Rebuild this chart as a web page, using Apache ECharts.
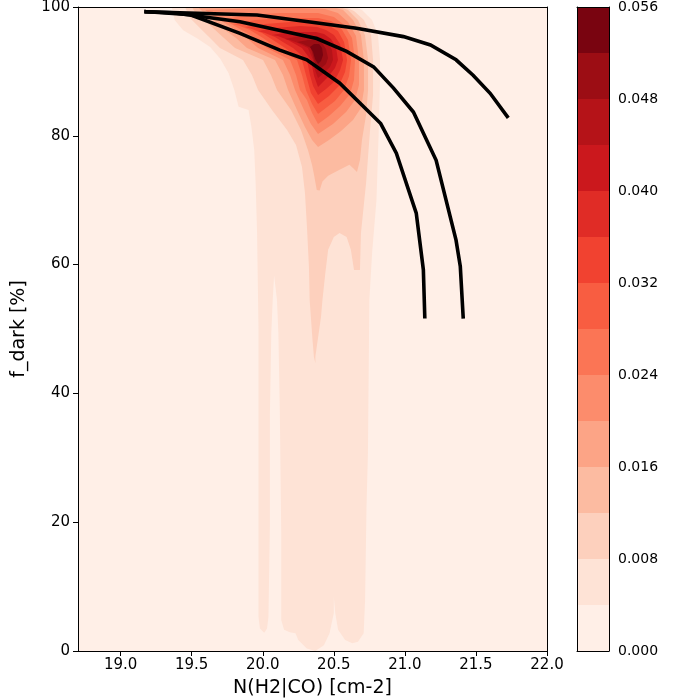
<!DOCTYPE html>
<html lang="en">
<head>
<meta charset="UTF-8">
<title>f_dark vs N(H2|CO)</title>
<style>
    html, body { margin: 0; padding: 0; background: #fff; }
    #chartmain { width: 700px; height: 700px; }
</style>
</head>
<body>
<div id="chartmain"></div>
<script src="https://cdn.jsdelivr.net/npm/echarts@6/dist/echarts.min.js"></script>
<script>
// density levels of the filled contours and the Reds colour of each band
var levels = [0, 0.004, 0.008, 0.012, 0.016, 0.020, 0.024, 0.028, 0.032, 0.036, 0.040, 0.044, 0.048, 0.052, 0.056];
var bandColors = ['#ffefe7', '#fee3d6', '#fdd0bd', '#fcbba1', '#fca486', '#fc8c6c', '#fb7555',
    '#f85d41', '#f14230', '#e02c26', '#cb181d', '#b51318', '#9c0d14', '#790410'];

var xTicks = [19.0, 19.5, 20.0, 20.5, 21.0, 21.5, 22.0];
var yTicks = [0, 20, 40, 60, 80, 100];
var cbTicks = [0, 0.008, 0.016, 0.024, 0.032, 0.040, 0.048, 0.056];

// outline of the region where density >= level k, points are [N(H2|CO), f_dark]
var band1 = [[19.36, 100], [19.38, 97.98], [19.44, 96.4], [19.54, 95.1], [19.63, 93.8], [19.70, 92.0], [19.76, 89.7],
    [19.80, 87.1], [19.83, 84.5], [19.90, 84.0], [19.92, 81.4], [19.94, 77.8], [19.95, 72.6], [19.96, 64.9], [19.97, 50],
    [19.97, 5.3], [19.98, 3.5], [20.01, 2.85], [20.03, 3.5], [20.04, 5.3], [20.05, 19.3], [20.05, 36.4], [20.06, 49.3],
    [20.07, 54.5], [20.08, 58.3], [20.10, 54.5], [20.11, 49.3], [20.12, 37.4], [20.13, 18.3], [20.13, 4.8], [20.15, 3.3],
    [20.19, 2.9], [20.23, 2.75], [20.25, 1.7], [20.31, 0.4], [20.37, 0], [20.43, 0.9], [20.47, 2.75], [20.50, 5.9],
    [20.50, 8.4], [20.51, 5.9], [20.53, 3.3], [20.58, 1.7], [20.63, 1.2], [20.67, 1.45], [20.71, 2.75], [20.72, 7.9],
    [20.73, 22.4], [20.74, 30.7], [20.75, 54.5], [20.77, 62], [20.80, 70.0], [20.815, 80], [20.825, 88.66],
    [20.825, 91.77], [20.811, 95.65], [20.769, 97.98], [20.698, 99.53], [20.649, 100]];
var band2 = [[19.453, 100], [20.579, 100], [20.642, 99.38], [20.712, 97.98], [20.762, 95.65], [20.776, 91.77],
    [20.776, 86.33], [20.755, 80.90], [20.727, 72.67], [20.691, 64.91], [20.684, 59.16], [20.642, 59.16], [20.62, 62.3],
    [20.59, 64.3], [20.54, 64.9], [20.50, 64.3], [20.46, 62.3], [20.44, 58.6], [20.42, 54.5], [20.41, 51.9], [20.39, 48.8],
    [20.37, 45.7], [20.37, 44.7], [20.36, 45.7], [20.35, 48.3], [20.34, 51.4], [20.33, 54.5], [20.325, 59.63],
    [20.311, 65.84], [20.297, 71.12], [20.276, 75.16], [20.234, 78.57], [20.171, 80.90], [20.065, 84.01], [19.967, 87.11],
    [19.924, 89.44], [19.861, 91.77], [19.699, 93.63], [19.629, 95.19], [19.558, 96.74], [19.488, 98.29]];
var band3 = [[19.502, 100], [20.544, 100], [20.600, 99.53], [20.670, 97.98], [20.719, 95.65], [20.741, 91.77],
    [20.741, 87.11], [20.727, 83.23], [20.698, 79.35], [20.684, 76.24], [20.663, 74.38], [20.635, 75.0], [20.61, 75.5],
    [20.53, 74.6], [20.46, 73.8], [20.42, 72.9], [20.40, 71.5], [20.38, 71.6], [20.361, 73.91], [20.347, 75.47],
    [20.318, 77.80], [20.269, 80.90], [20.199, 84.01], [20.100, 87.11], [20.058, 89.44], [20.002, 91.77], [19.805, 93.63],
    [19.727, 95.19], [19.650, 96.74], [19.572, 98.29], [19.523, 99.22]];
var band4 = [[19.544, 100], [20.494, 100], [20.565, 99.53], [20.635, 97.98], [20.691, 95.65], [20.712, 91.77],
    [20.712, 87.11], [20.691, 84.32], [20.635, 82.45], [20.551, 80.75], [20.466, 79.35], [20.389, 78.26], [20.347, 79.35],
    [20.297, 81.37], [20.241, 84.01], [20.178, 87.11], [20.142, 89.44], [20.086, 91.77], [19.889, 93.63], [19.812, 95.19],
    [19.734, 96.43], [19.664, 97.67], [19.594, 98.91]];
var band5 = [[19.594, 99.53], [19.981, 99.84], [20.262, 99.84], [20.438, 99.69], [20.529, 99.07], [20.600, 97.67],
    [20.656, 95.50], [20.677, 91.77], [20.677, 87.89], [20.649, 85.56], [20.586, 83.70], [20.494, 81.83], [20.389, 80.28],
    [20.339, 81.83], [20.290, 84.01], [20.227, 87.11], [20.192, 89.44], [20.142, 91.77], [19.967, 93.63], [19.903, 94.88],
    [19.840, 95.96], [19.755, 97.21], [19.664, 98.45]];
var band6 = [[19.713, 97.98], [19.875, 98.76], [20.121, 99.07], [20.389, 99.07], [20.501, 98.45], [20.572, 97.21],
    [20.628, 95.19], [20.649, 91.77], [20.642, 88.66], [20.614, 86.49], [20.544, 84.63], [20.466, 83.07], [20.389, 81.83],
    [20.347, 83.54], [20.311, 85.56], [20.262, 87.11], [20.234, 89.44], [20.192, 91.77], [20.030, 93.63], [19.924, 95.50],
    [19.826, 96.74], [19.755, 97.67]];
var band7 = [[19.791, 97.36], [19.945, 97.98], [20.157, 98.29], [20.389, 98.29], [20.480, 97.83], [20.551, 96.74],
    [20.600, 94.88], [20.621, 91.77], [20.607, 89.29], [20.572, 87.11], [20.508, 85.40], [20.389, 83.39], [20.347, 84.94],
    [20.304, 87.11], [20.276, 89.44], [20.241, 91.77], [20.100, 93.63], [20.002, 95.19], [19.910, 96.43], [19.840, 97.05]];
var band8 = [[19.875, 96.89], [20.016, 97.36], [20.192, 97.67], [20.382, 97.67], [20.459, 97.21], [20.529, 96.27],
    [20.572, 94.57], [20.593, 91.77], [20.579, 89.91], [20.536, 87.73], [20.466, 86.18], [20.389, 84.94], [20.339, 86.65],
    [20.304, 89.44], [20.276, 91.77], [20.157, 93.63], [20.072, 94.88], [19.995, 95.96], [19.924, 96.58]];
var band9 = [[19.967, 96.27], [20.086, 96.74], [20.262, 97.05], [20.382, 96.89], [20.445, 96.43], [20.501, 95.65],
    [20.544, 94.26], [20.565, 91.77], [20.544, 90.22], [20.501, 88.35], [20.445, 87.27], [20.389, 86.33], [20.354, 87.73],
    [20.332, 89.44], [20.311, 91.77], [20.213, 93.63], [20.142, 94.57], [20.086, 95.34], [20.016, 95.96]];
var band10 = [[20.065, 95.65], [20.192, 96.12], [20.375, 96.12], [20.431, 95.81], [20.480, 95.03], [20.515, 93.79],
    [20.529, 91.77], [20.508, 90.53], [20.459, 89.13], [20.389, 87.58], [20.361, 89.29], [20.339, 91.77], [20.276, 93.63],
    [20.178, 94.88], [20.107, 95.50]];
var band11 = [[20.157, 95.03], [20.262, 95.50], [20.375, 95.50], [20.417, 95.19], [20.459, 94.41], [20.487, 93.32],
    [20.494, 91.77], [20.473, 90.68], [20.431, 89.75], [20.389, 88.98], [20.368, 90.22], [20.354, 91.77], [20.318, 93.63],
    [20.248, 94.41], [20.192, 94.88]];
var band12 = [[20.241, 94.57], [20.318, 94.88], [20.375, 94.88], [20.417, 94.41], [20.445, 93.48], [20.459, 92.08],
    [20.445, 91.15], [20.389, 90.06], [20.361, 91.77], [20.339, 93.63], [20.283, 94.26]];
var band13 = [[20.332, 93.79], [20.361, 94.26], [20.396, 94.26], [20.417, 93.63], [20.424, 92.55], [20.410, 91.61],
    [20.389, 91.15], [20.368, 91.93], [20.354, 93.01]];

// the three black model curves
var curveA = [[19.18, 99.27], [19.96, 98.76], [20.40, 97.47], [20.66, 96.7], [20.99, 95.4], [21.18, 94.1],
    [21.36, 91.8], [21.48, 89.4], [21.60, 86.6], [21.72, 83.0]];
var curveB = [[19.18, 99.27], [19.37, 99.1], [19.84, 97.7], [20.38, 95.1], [20.59, 93.1], [20.78, 90.7], [20.92, 87.4],
    [21.06, 83.7], [21.22, 76.2], [21.36, 63.8], [21.39, 59.7], [21.41, 51.9]];
var curveC = [[19.18, 99.27], [19.49, 98.8], [19.84, 95.9], [20.12, 93.3], [20.31, 91.8], [20.54, 88.2], [20.83, 81.9],
    [20.94, 77.3], [21.08, 68.0], [21.13, 59.2], [21.14, 51.9]];

var bands = [band1, band2, band3, band4, band5, band6, band7, band8, band9, band10, band11, band12, band13];

var chart = echarts.init(document.getElementById('chartmain'));

var fontFam = 'DejaVu Sans';

// colourbar: one stacked bar piece per contour band
var cbSeries = [];
for (var i = 0; i < levels.length - 1; i++) {
    cbSeries.push({
        type: 'bar',
        stack: 'cb',
        xAxisIndex: 2,
        yAxisIndex: 2,
        barWidth: '100%',
        silent: true,
        itemStyle: { color: bandColors[i] },
        data: [levels[i + 1] - levels[i]]
    });
}

function curve(data) {
    return {
        type: 'line',
        xAxisIndex: 0,
        yAxisIndex: 0,
        data: data,
        symbol: 'none',
        silent: true,
        z: 5,
        lineStyle: { color: '#000', width: 3.6, cap: 'square', join: 'miter' }
    };
}

var blackLine = { show: true, onZero: false, lineStyle: { color: '#000', width: 1 } };
var plain = { axisLine: blackLine, axisTick: { show: false }, axisLabel: { show: false }, splitLine: { show: false }, z: 10 };

var option = {
    animation: false,
    textStyle: { fontFamily: fontFam },
    grid: [
        { left: 78, top: 7, width: 469, height: 644, show: true, backgroundColor: bandColors[0], borderWidth: 0, outerBoundsMode: 'none' },
        { left: 577, top: 7, width: 32, height: 644, show: false, outerBoundsMode: 'none' }
    ],
    xAxis: [{
        gridIndex: 0,
        type: 'value',
        min: 18.7,
        max: 22.0,
        z: 10,
        axisLine: blackLine,
        axisTick: { customValues: xTicks, length: 5, lineStyle: { color: '#000' } },
        axisLabel: {
            customValues: xTicks, color: '#000', fontSize: 15, margin: 7,
            formatter: function (v) { return v.toFixed(1); }
        },
        splitLine: { show: false },
        name: 'N(H2|CO) [cm-2]',
        nameLocation: 'middle',
        nameGap: 28,
        nameTextStyle: { color: '#000', fontSize: 19 }
    },
    Object.assign({ gridIndex: 0, type: 'value', min: 18.7, max: 22.0, position: 'top' }, plain),
    Object.assign({ gridIndex: 1, type: 'category', data: ['cb'] }, plain),
    Object.assign({ gridIndex: 1, type: 'category', data: ['cb'], position: 'top' }, plain)
    ],
    yAxis: [{
        gridIndex: 0,
        type: 'value',
        min: 0,
        max: 100,
        z: 10,
        axisLine: blackLine,
        axisTick: { customValues: yTicks, length: 5, lineStyle: { color: '#000' } },
        axisLabel: { customValues: yTicks, color: '#000', fontSize: 15, margin: 8 },
        splitLine: { show: false },
        name: 'f_dark [%]',
        nameLocation: 'middle',
        nameGap: 49,
        nameTextStyle: { color: '#000', fontSize: 19 }
    },
    Object.assign({ gridIndex: 0, type: 'value', min: 0, max: 100, position: 'right' }, plain),
    {
        gridIndex: 1,
        type: 'value',
        min: 0,
        max: 0.056,
        position: 'right',
        z: 10,
        axisLine: blackLine,
        axisTick: { customValues: cbTicks, length: 5, lineStyle: { color: '#000' } },
        axisLabel: {
            customValues: cbTicks, color: '#000', fontSize: 14, margin: 9,
            formatter: function (v) { return v.toFixed(3); }
        },
        splitLine: { show: false }
    },
    Object.assign({ gridIndex: 1, type: 'value', min: 0, max: 0.056, position: 'left' }, plain)
    ],
    series: [{
        type: 'custom',
        xAxisIndex: 0,
        yAxisIndex: 0,
        clip: true,
        silent: true,
        z: 1,
        data: bands.map(function (b) { return b[0]; }),
        renderItem: function (params, api) {
            var pts = bands[params.dataIndex].map(function (p) { return api.coord(p); });
            return {
                type: 'polygon',
                shape: { points: pts },
                style: { fill: bandColors[params.dataIndex + 1], stroke: null }
            };
        }
    },
    curve(curveA),
    curve(curveB),
    curve(curveC)
    ].concat(cbSeries)
};

chart.setOption(option);
</script>
</body>
</html>
